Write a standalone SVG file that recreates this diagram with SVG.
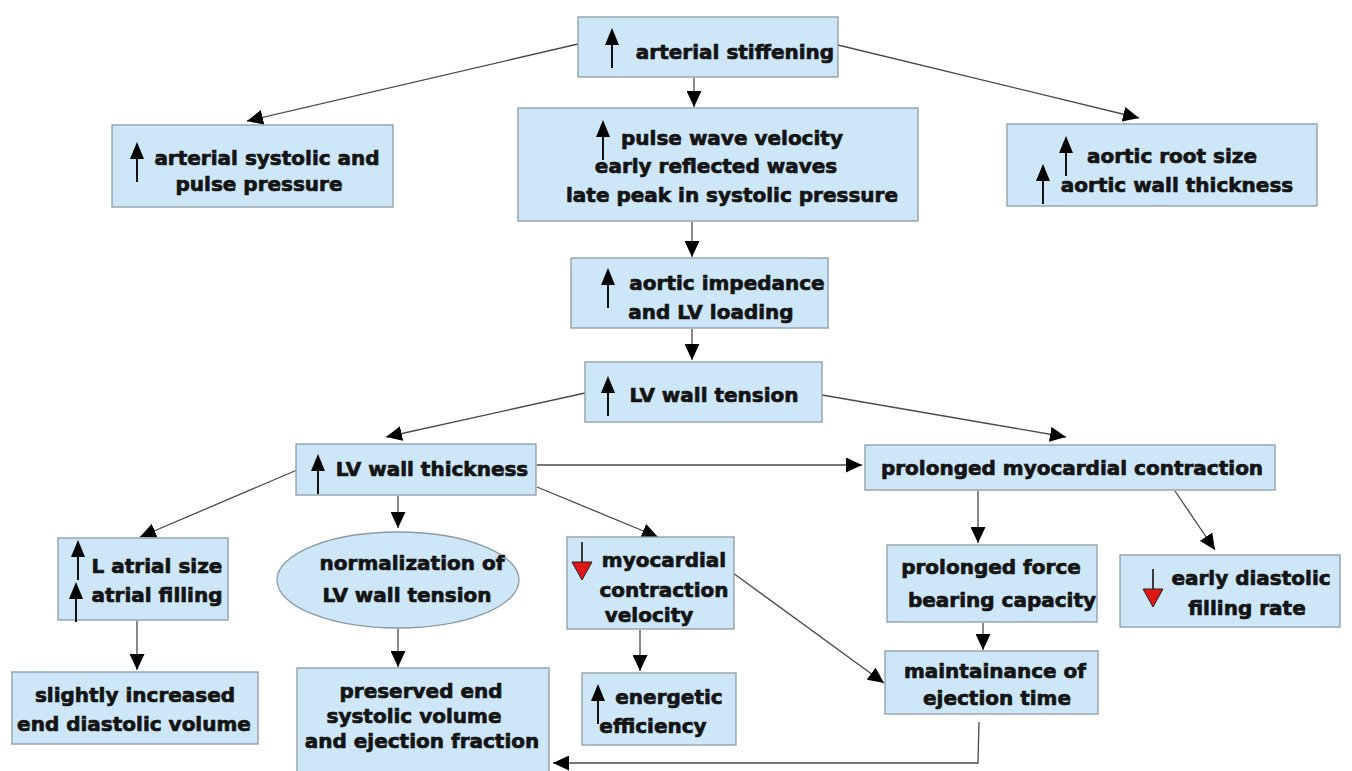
<svg xmlns="http://www.w3.org/2000/svg" xmlns:xlink="http://www.w3.org/1999/xlink" width="1352" height="771" viewBox="0 0 1352 771">
<style>
.box{fill:#cde7f9;stroke:#8c9aa6;stroke-width:1.3}
.t{font-family:"DejaVu Sans","Liberation Sans",sans-serif;font-weight:bold;font-size:20px;fill:#141414;stroke:#141414;stroke-width:0.7;text-anchor:middle}
.c{fill:none;stroke:#4a4a4a;stroke-width:1.3}
.ar line{stroke:#111;stroke-width:2}
</style>
<defs>
<marker id="h" markerUnits="userSpaceOnUse" markerWidth="17" markerHeight="15" refX="16" refY="7.5" orient="auto">
<path d="M0,0 L16,7.5 L0,15 Z" fill="#000"/>
</marker>
<g id="up" class="ar"><line x1="0" y1="6" x2="0" y2="40"/><path d="M-7,17 L0,0 L7,17 Z" fill="#000"/></g>
<g id="dn"><line x1="0" y1="0" x2="0" y2="36" stroke="#111" stroke-width="1.6"/><path d="M-10,20 L10,20 L0,38 Z" fill="#e01515" stroke="#222" stroke-width="1"/></g>
</defs>
<rect width="1352" height="771" fill="#fff"/>
<g id="connectors">
<path class="c" marker-end="url(#h)" d="M578,44 L247,121"/>
<path class="c" marker-end="url(#h)" d="M838,45 L1139,118"/>
<path class="c" marker-end="url(#h)" d="M694,78 L694,107"/>
<path class="c" marker-end="url(#h)" d="M692,222 L692,257"/>
<path class="c" marker-end="url(#h)" d="M692,329 L692,360"/>
<path class="c" marker-end="url(#h)" d="M585,393 L386,437"/>
<path class="c" marker-end="url(#h)" d="M822,395 L1066,437"/>
<path class="c" marker-end="url(#h)" d="M537,465 L862,465"/>
<path class="c" marker-end="url(#h)" d="M297,470 L140,537"/>
<path class="c" marker-end="url(#h)" d="M398,496 L398,528"/>
<path class="c" marker-end="url(#h)" d="M537,487 L658,537"/>
<path class="c" marker-end="url(#h)" d="M978,491 L978,543"/>
<path class="c" marker-end="url(#h)" d="M1175,491 L1215,550"/>
<path class="c" marker-end="url(#h)" d="M137,621 L137,670"/>
<path class="c" marker-end="url(#h)" d="M398,629 L398,667"/>
<path class="c" marker-end="url(#h)" d="M640,630 L640,671"/>
<path class="c" marker-end="url(#h)" d="M733,573 L884,683"/>
<path class="c" marker-end="url(#h)" d="M983,623 L983,650"/>
<path class="c" marker-end="url(#h)" d="M979,722 L978,763 L553,763"/>
</g>
<g id="n1"><rect class="box" x="578" y="17" width="260" height="60"/><use xlink:href="#up" x="612" y="28"/><text class="t" x="735" y="59">arterial stiffening</text></g>
<g id="n2"><rect class="box" x="112" y="125" width="281" height="82"/><use xlink:href="#up" x="137" y="142"/><text class="t" x="267" y="165">arterial systolic and</text><text class="t" x="259" y="191">pulse pressure</text></g>
<g id="n3"><rect class="box" x="518" y="108" width="400" height="113"/><use xlink:href="#up" x="603" y="120"/><text class="t" x="732" y="145">pulse wave velocity</text><text class="t" x="716" y="173">early reflected waves</text><text class="t" x="732" y="202">late peak in systolic pressure</text></g>
<g id="n4"><rect class="box" x="1007" y="124" width="310" height="82"/><use xlink:href="#up" x="1066" y="136"/><use xlink:href="#up" x="1043" y="164"/><text class="t" x="1172" y="163">aortic root size</text><text class="t" x="1177" y="192">aortic wall thickness</text></g>
<g id="n5"><rect class="box" x="571" y="258" width="257" height="70"/><use xlink:href="#up" x="608" y="268"/><text class="t" x="727" y="290">aortic impedance</text><text class="t" x="711" y="319">and LV loading</text></g>
<g id="n6"><rect class="box" x="585" y="362" width="237" height="60"/><use xlink:href="#up" x="608" y="376"/><text class="t" x="714" y="402">LV wall tension</text></g>
<g id="n7"><rect class="box" x="296" y="444" width="240" height="51"/><use xlink:href="#up" x="318" y="454"/><text class="t" x="432" y="476">LV wall thickness</text></g>
<g id="n8"><rect class="box" x="865" y="445" width="410" height="45"/><text class="t" x="1072" y="475">prolonged myocardial contraction</text></g>
<g id="n9"><rect class="box" x="58" y="538" width="170" height="82"/><use xlink:href="#up" x="78" y="540"/><use xlink:href="#up" x="76" y="582"/><text class="t" x="157" y="573">L atrial size</text><text class="t" x="157" y="602">atrial filling</text></g>
<g id="n10"><ellipse class="box" cx="398" cy="580" rx="121" ry="48"/><text class="t" x="412" y="570">normalization of</text><text class="t" x="407" y="602">LV wall tension</text></g>
<g id="n11"><rect class="box" x="567" y="537" width="167" height="92"/><use xlink:href="#dn" x="582" y="542"/><text class="t" x="664" y="567">myocardial</text><text class="t" x="664" y="597">contraction</text><text class="t" x="649" y="622">velocity</text></g>
<g id="n12"><rect class="box" x="887" y="545" width="210" height="77"/><text class="t" x="991" y="574">prolonged force</text><text class="t" x="1002" y="607">bearing capacity</text></g>
<g id="n13"><rect class="box" x="1120" y="555" width="220" height="72"/><use xlink:href="#dn" x="1153" y="569"/><text class="t" x="1251" y="585">early diastolic</text><text class="t" x="1247" y="615">filling rate</text></g>
<g id="n14"><rect class="box" x="12" y="672" width="246" height="72"/><text class="t" x="135" y="702">slightly increased</text><text class="t" x="134" y="731">end diastolic volume</text></g>
<g id="n15"><rect class="box" x="297" y="668" width="252" height="110"/><text class="t" x="421" y="698">preserved end</text><text class="t" x="414" y="723">systolic volume</text><text class="t" x="422" y="748">and ejection fraction</text></g>
<g id="n16"><rect class="box" x="582" y="673" width="154" height="72"/><use xlink:href="#up" x="598" y="684"/><text class="t" x="669" y="704">energetic</text><text class="t" x="653" y="733">efficiency</text></g>
<g id="n17"><rect class="box" x="885" y="651" width="213" height="63"/><text class="t" x="995" y="678">maintainance of</text><text class="t" x="997" y="705">ejection time</text></g>
</svg>
